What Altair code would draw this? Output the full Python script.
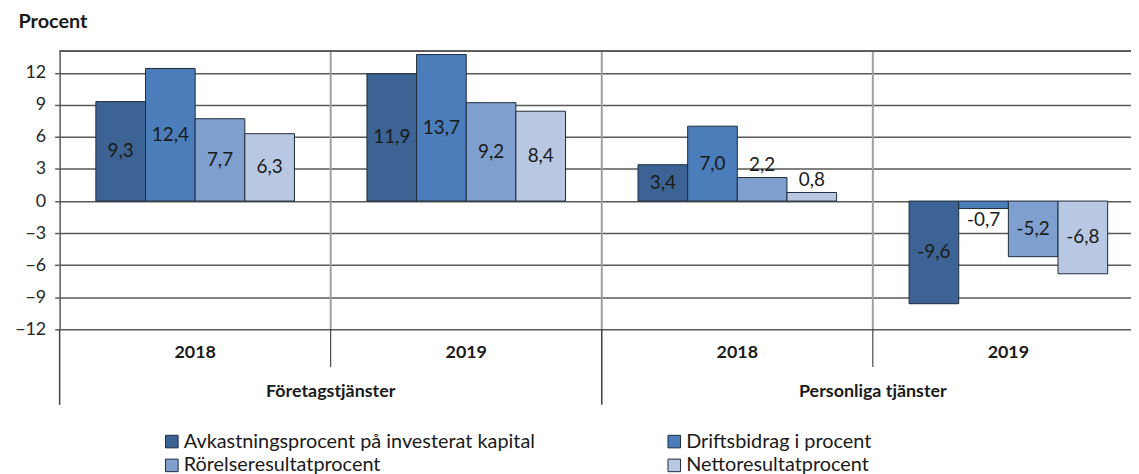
import altair as alt
import pandas as pd

# ---- data ----
groups = ["Företagstjänster", "Företagstjänster", "Personliga tjänster", "Personliga tjänster"]
years = ["2018", "2019", "2018", "2019"]
series = [
    "Avkastningsprocent på investerat kapital",
    "Driftsbidrag i procent",
    "Rörelseresultatprocent",
    "Nettoresultatprocent",
]
avkastning = [9.3, 11.9, 3.4, -9.6]
driftsbidrag = [12.4, 13.7, 7.0, -0.7]
rorelse = [7.7, 9.2, 2.2, -5.2]
netto = [6.3, 8.4, 0.8, -6.8]
y_ticks = [-12, -9, -6, -3, 0, 3, 6, 9, 12]

colors = ["#3C6394", "#4A7DBA", "#7F9FCE", "#B8C8E2"]
FONT = "Lato"
DARK = "#1a1a1a"
GRID = "#595959"

panels = [f"{g}|{y}" for g, y in zip(groups, years)]
rows = []
for s, vals in zip(series, [avkastning, driftsbidrag, rorelse, netto]):
    for p, v in zip(panels, vals):
        rows.append({"panel": p, "series": s, "value": v,
                     "label": f"{v:.1f}".replace(".", ",")})
df = pd.DataFrame(rows)
panel_df = pd.DataFrame({"panel": panels, "group": groups, "year": years})

# legend is filled column by column, so order the colour domain accordingly
legend_order = [series[0], series[2], series[1], series[3]]
legend_colors = [colors[0], colors[2], colors[1], colors[3]]

W, H = 1079, 280
FULL = 1092  # full width of the four panels (partly cut at right edge)

x_scale = alt.Scale(domain=panels, range=[0, FULL], paddingInner=0, paddingOuter=0)
y_scale = alt.Scale(domain=[-12, 14], nice=False, zero=False)
off_scale = alt.Scale(domain=series, paddingInner=0, paddingOuter=0.73)

y_axis = alt.Axis(values=y_ticks, title="Procent", titleAngle=0, titleX=-42, titleY=-24,
                  titleAlign="left", titleBaseline="alphabetic", titleFont=FONT,
                  titleFontSize=20, titleFontWeight="bold", titleColor=DARK,
                  labelFont=FONT, labelFontSize=18, labelColor="#262626", labelPadding=9,
                  labelOverlap=False, tickSize=5, tickColor=GRID, tickWidth=1.5,
                  domainColor=GRID, domainWidth=1.5, gridColor=GRID, gridWidth=1.5,
                  grid=True)


def yq(field):
    return alt.Y(field, scale=y_scale, axis=y_axis)


def yd(v):
    return alt.YDatum(v, scale=y_scale, axis=y_axis)


base = alt.Chart(df)
xpos = dict(x=alt.X("panel:N", sort=panels, scale=x_scale, axis=None),
            xOffset=alt.XOffset("series:N", sort=series, scale=off_scale))

bars = base.mark_bar(stroke="#1f2b3a", strokeWidth=1).encode(
    y=yq("value:Q"),
    y2=alt.datum(0),
    color=alt.Color("series:N", sort=legend_order,
                    scale=alt.Scale(domain=legend_order, range=legend_colors),
                    legend=alt.Legend(title=None, orient="none", legendX=103, legendY=383,
                                      columns=2, columnPadding=130, rowPadding=4,
                                      symbolType="square", symbolSize=160,
                                      symbolStrokeColor="#1f2b3a", symbolStrokeWidth=1,
                                      symbolOpacity=1, labelFont=FONT, labelFontSize=20,
                                      labelColor=DARK, labelLimit=0, padding=0,
                                      labelOffset=2)),
    **xpos,
)

text_style = dict(font=FONT, fontSize=19, color=DARK)

inside = base.transform_filter("abs(datum.value) >= 3").transform_calculate(
    mid="datum.value / 2").mark_text(baseline="middle", **text_style).encode(
    y=yq("mid:Q"), text="label:N", **xpos)

out_pos = base.transform_filter("datum.value >= 0 && datum.value < 3").mark_text(
    baseline="bottom", dy=-3, **text_style).encode(
    y=yq("value:Q"), text="label:N", **xpos)

out_neg = base.transform_filter("datum.value < 0 && datum.value > -3").mark_text(
    baseline="top", dy=3, **text_style).encode(
    y=yq("value:Q"), text="label:N", **xpos)

pbase = alt.Chart(panel_df)

top_line = pbase.mark_rule(color=GRID, strokeWidth=1.5).encode(y=yd(14))

xstart = alt.X("panel:N", sort=panels, scale=x_scale, axis=None, bandPosition=0)
xmid = alt.X("panel:N", sort=panels, scale=x_scale, axis=None)

inner_sep = pbase.transform_filter(f"datum.panel != '{panels[0]}'").mark_rule(
    color="#a0a0a0", strokeWidth=2).encode(x=xstart, y=yd(-12), y2=alt.datum(14))

year_sep = pbase.transform_filter("datum.year == '2019'").mark_rule(
    color="#262626", strokeWidth=1).encode(x=xstart, y=alt.value(H), y2=alt.value(H + 38))

group_sep = pbase.transform_filter("datum.year == '2018'").mark_rule(
    color="#404040", strokeWidth=1.5).encode(x=xstart, y=alt.value(H), y2=alt.value(H + 76))

year_lbl = pbase.mark_text(
    font=FONT, fontSize=18, fontWeight="bold", color=DARK, baseline="middle").encode(
    x=xmid, y=alt.value(H + 24), text="year:N")

group_lbl = pbase.transform_filter("datum.year == '2019'").mark_text(
    font=FONT, fontSize=18, fontWeight="bold", color=DARK, baseline="middle").encode(
    x=xstart, y=alt.value(H + 63), text="group:N")

chart = alt.layer(
    bars, inner_sep, top_line, inside, out_pos, out_neg,
    year_sep, group_sep, year_lbl, group_lbl
).properties(
    width=W, height=H,
    autosize=alt.AutoSizeParams(type="none"),
    padding={"left": 52, "top": 42, "right": 0, "bottom": 144},
    background="white",
).configure_view(stroke=None)

chart.save("out.html", embed_options={"renderer": "svg", "actions": False})
